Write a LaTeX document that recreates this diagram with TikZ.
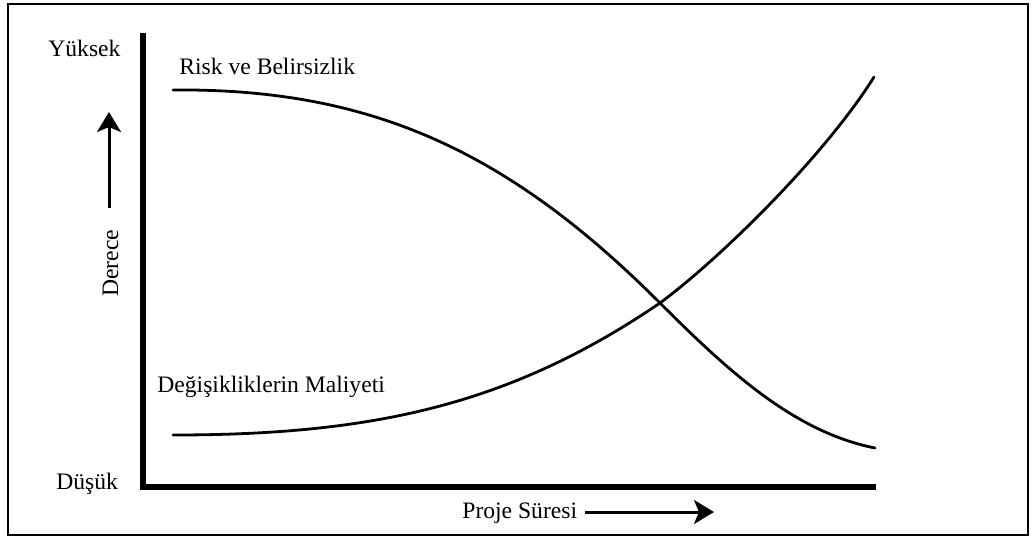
\documentclass[tikz,border=0pt]{standalone}
\usepackage{fontspec}
\setmainfont{Liberation Serif}
\usetikzlibrary{arrows.meta}
\begin{document}
\begin{tikzpicture}[x=0.5pt,y=-0.5pt,
  lbl/.style={inner sep=0pt,font=\fontsize{11.8}{14}\selectfont},
  axis/.style={line width=3.3pt,line join=miter,line cap=butt},
  curve/.style={line width=1.4pt,line cap=round},
  dirarrow/.style={line width=1.5pt,-{Stealth[length=10pt,width=12pt,inset=2.5pt]}}]
  \useasboundingbox (0,0) rectangle (1032,537);
  % outer frame
  \draw[line width=1pt] (8,4) rectangle (1028,535);
  % axes
  \coordinate (ytop) at (143,33);
  \coordinate (origin) at (143,487);
  \coordinate (xend) at (876,487);
  \draw[axis] (ytop) -- (origin) -- (xend);
  % level labels
  \node[lbl,anchor=base west] (high) at (48,56) {Yüksek};
  \node[lbl,anchor=base west] (low) at (56,489) {Düşük};
  % vertical direction arrow and label
  \coordinate (upfrom) at (109,208);
  \coordinate (upto) at (109,112);
  \draw[dirarrow] (upfrom) -- (upto);
  \node[lbl,rotate=90,anchor=base west] (degree) at (118,297) {Derece};
  % horizontal direction arrow and label
  \node[lbl,anchor=base west] (time) at (462,518) {Proje Süresi};
  \coordinate (rightto) at (714,512);
  \draw[dirarrow] (time.east |- rightto) ++(7,0) coordinate (rightfrom) -- (rightto);
  % risk and uncertainty curve
  \coordinate (riskstart) at (173,90);
  \coordinate (cross) at (660,303);
  \coordinate (riskend) at (875,448);
  \draw[curve] (riskstart) .. controls (373,88) and (510,153) .. (cross)
                           .. controls (730,373) and (795,432) .. (riskend);
  \node[lbl,anchor=base west] (risk) at (179,74) {Risk ve Belirsizlik};
  % cost of changes curve
  \coordinate (coststart) at (173,435);
  \coordinate (costend) at (874,77);
  \draw[curve] (coststart) .. controls (373,435) and (510,405) .. (cross)
                           .. controls (722,257) and (826,154) .. (costend);
  \node[lbl,anchor=base west] (cost) at (157,392) {Değişikliklerin Maliyeti};
\end{tikzpicture}
\end{document}
